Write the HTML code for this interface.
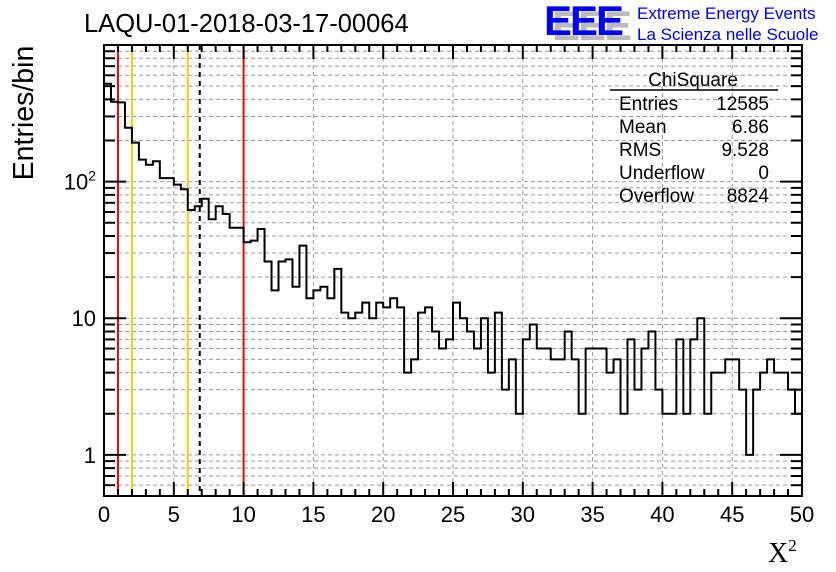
<!DOCTYPE html>
<html><head><meta charset="utf-8"><style>
body{margin:0;background:#fff;}
svg{display:block;font-family:"Liberation Sans",sans-serif;}
</style></head><body>
<svg id="c" width="836" height="572">
<rect width="836" height="572" fill="#fff"/>
<g id="grid"></g>
<g id="cuts"></g>
<path id="hist" fill="none" stroke="#000" stroke-width="2"/>
<rect x="104" y="45" width="698" height="451" fill="none" stroke="#000" stroke-width="2"/>
<g id="ticks"></g>
<text x="84" y="32" font-size="25.5">LAQU-01-2018-03-17-00064</text>
<text transform="translate(33,113) rotate(-90)" font-size="28.5" text-anchor="middle">Entries/bin</text>
<text x="768" y="562" font-size="28" font-family="Liberation Serif,serif">X<tspan font-size="17" dy="-11">2</tspan></text>
<g>
<text x="552" y="40" font-size="42" font-weight="bold" fill="#bbb" letter-spacing="-2">EEE</text>
<text x="544" y="35" font-size="42" font-weight="bold" fill="#0000ff" letter-spacing="-2">EEE</text>
<text x="637" y="19" font-size="17" fill="#0000ff">Extreme Energy Events</text>
<text x="637" y="40" font-size="17" fill="#0000ff">La Scienza nelle Scuole</text>
</g>
<g font-size="19">
<text x="693" y="86" text-anchor="middle">ChiSquare</text>
<line x1="610" y1="90" x2="778" y2="90" stroke="#000" stroke-width="1.5"/>
<text x="619" y="110">Entries</text><text x="769" y="110" text-anchor="end">12585</text>
<text x="619" y="133">Mean</text><text x="769" y="133" text-anchor="end">6.86</text>
<text x="619" y="156">RMS</text><text x="769" y="156" text-anchor="end">9.528</text>
<text x="619" y="179">Underflow</text><text x="769" y="179" text-anchor="end">0</text>
<text x="619" y="202">Overflow</text><text x="769" y="202" text-anchor="end">8824</text>
</g>
</svg>
<script>
const counts=[520,384,380,248,193,145,133,141,106,106,95,88,62,66,75,53,66,58,46,46,
36,37,45,26,16,26,27,17,34,14,16,17,14,23,11,10,11,13,10,13,
12,14,12,4,5,11,12,8,6,7,13,10,8,6,10,4,11,3,5,2,
7,9,6,6,5,5,8,5,2,6,6,6,4,5,2,7,3,6,8,3,
2,2,7,2,7,10,2,4,4,5,5,3,1,3,4,5,4,4,3,2];
const binWidth=0.5;
const xTicks=[0,5,10,15,20,25,30,35,40,45,50];
const yTickLabels=["1","10","10²"];
const yTickValues=[1,10,100];
const cutLines=[{v:1,c:"#ff0000",d:""},{v:2,c:"#ffcc00",d:""},{v:6,c:"#ffcc00",d:""},{v:6.86,c:"#000",d:"5,4"},{v:10,c:"#ff0000",d:""}];
const X0=104,X1=802,Y0=496,Y1=45,ymin=0.5,ymax=1000;
const sx=v=>X0+(v-0)/50*(X1-X0);
const sy=v=>Y0-(Math.log10(v)-Math.log10(ymin))/(Math.log10(ymax)-Math.log10(ymin))*(Y0-Y1);
const NS="http://www.w3.org/2000/svg";
function mk(t,a,p){const e=document.createElementNS(NS,t);for(const k in a)e.setAttribute(k,a[k]);p.appendChild(e);return e;}
const grid=document.getElementById('grid'),ticks=document.getElementById('ticks'),cuts=document.getElementById('cuts');
for(let d=0.1;d<1000;d*=10){for(let m=1;m<10;m++){const v=Math.round(d*m*1000)/1000;if(v<ymin||v>ymax)continue;const y=sy(v);
const g=mk('line',{x1:X0,x2:X1,y1:y,y2:y,stroke:'#999','stroke-dasharray':'4,3','stroke-width':1},grid);


const L=m===1?22:11;
mk('line',{x1:X0,x2:X0+L,y1:y,y2:y,stroke:'#000','stroke-width':2},ticks);
mk('line',{x1:X1,x2:X1-L,y1:y,y2:y,stroke:'#000','stroke-width':2},ticks);}}
yTickValues.forEach((v,i)=>{const t=mk('text',{x:X0-8,y:sy(v)+8,'font-size':22,'text-anchor':'end'},ticks);


if(yTickLabels[i]==="10²"){t.textContent="10";const s=mk('tspan',{dy:-9,'font-size':14},t);s.textContent="2";}else t.textContent=yTickLabels[i];});
for(let v=0;v<=50;v+=1){const x=sx(v);const major=v%5===0;const L=major?14:7;
mk('line',{x1:x,x2:x,y1:Y0,y2:Y0-L,stroke:'#000','stroke-width':2},ticks);
mk('line',{x1:x,x2:x,y1:Y1,y2:Y1+L,stroke:'#000','stroke-width':2},ticks);}
xTicks.forEach(v=>{const x=sx(v);
if(v>0&&v<50){const g=mk('line',{x1:x,x2:x,y1:Y0,y2:Y1,stroke:'#999','stroke-dasharray':'4,3','stroke-width':1},grid);

}
const t=mk('text',{x:x,y:522,'font-size':22,'text-anchor':'middle'},ticks);


t.textContent=String(v);});
cutLines.forEach(c=>{const x=sx(c.v);const l=mk('line',{x1:x,x2:x,y1:Y1,y2:Y0,stroke:c.c,'stroke-width':2},cuts);
if(c.d)l.setAttribute('stroke-dasharray',c.d);

});
let d="M"+sx(0)+","+sy(counts[0]);
counts.forEach((v,i)=>{const y=Math.min(Math.max(sy(Math.max(v,ymin)),Y1),Y0);
if(i>0)d+=" L"+sx(i*binWidth)+","+y;
d+=" L"+sx((i+1)*binWidth)+","+y;});
document.getElementById('hist').setAttribute('d',d);
</script>
</body></html>
